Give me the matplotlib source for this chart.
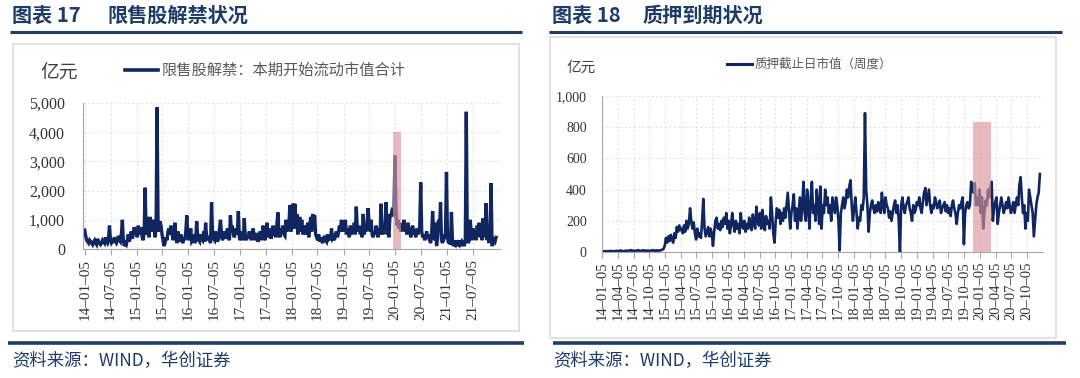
import numpy as np
import pandas as pd
import matplotlib
matplotlib.use("Agg")
import matplotlib.pyplot as plt
import matplotlib.dates as mdates
from matplotlib.patches import Rectangle
from matplotlib.ticker import FuncFormatter, MultipleLocator

# ---------------- data ----------------
# Left: 限售股解禁：本期开始流动市值合计 (weekly, 亿元)
lock_2014 = [650, 450, 300, 250, 200, 300, 250, 200, 150, 250, 300, 200, 150,
             350, 250, 200, 150, 200, 300, 250, 200, 400, 250, 200, 350, 800,
             300, 200, 250, 300, 400, 250, 200, 300, 450, 300, 250, 500, 1000,
             300, 100, 200, 150, 300, 500, 250, 400, 600, 350, 500, 750, 550]
lock_2015 = [700, 400, 800, 600, 500, 750, 400, 300, 600, 2100, 500, 1100, 700,
             400, 1100, 900, 600, 1000, 800, 400, 700, 4850, 1000, 600, 950, 800,
             500, 300, 100, 200, 400, 300, 600, 700, 500, 800, 600, 300, 500,
             900, 400, 200, 600, 350, 250, 500, 300, 200, 400, 300, 600, 1150]
lock_2016 = [500, 300, 400, 700, 250, 300, 500, 200, 350, 950, 400, 300, 250,
             500, 350, 300, 600, 250, 900, 400, 300, 450, 300, 200, 1600, 500,
             350, 300, 600, 400, 250, 350, 700, 1000, 500, 300, 400, 600, 350,
             500, 700, 400, 300, 1150, 600, 800, 500, 400, 600, 700, 500, 1300]
lock_2017 = [400, 300, 600, 500, 300, 1050, 400, 300, 500, 350, 600, 450, 300,
             500, 700, 400, 300, 550, 350, 250, 400, 600, 300, 500, 800, 400,
             300, 600, 900, 500, 400, 700, 350, 500, 800, 450, 600, 400, 900,
             1250, 500, 400, 700, 600, 800, 500, 450, 1000, 600, 700, 800, 1500]
lock_2018 = [600, 900, 1550, 700, 1550, 800, 1200, 500, 900, 1100, 600, 1000, 500,
             700, 800, 500, 600, 900, 400, 700, 1100, 600, 1200, 900, 1150, 500,
             400, 300, 500, 250, 400, 300, 200, 350, 450, 300, 250, 500, 350,
             400, 300, 700, 350, 400, 300, 500, 600, 400, 550, 800, 600, 1000]
lock_2019 = [700, 600, 800, 1000, 500, 700, 600, 400, 800, 500, 700, 600, 900,
             500, 1450, 700, 600, 800, 500, 600, 400, 1200, 500, 700, 600, 900,
             1400, 800, 600, 1000, 500, 400, 600, 500, 800, 600, 400, 700, 500,
             1550, 600, 500, 800, 700, 1600, 500, 600, 400, 1200, 1100, 1300, 1250]
lock_2020 = [1200, 3200, 1400, 800, 1000, 700, 900, 600, 800, 700, 1000, 600, 800,
             500, 900, 700, 600, 400, 700, 800, 500, 600, 400, 700, 500, 600,
             800, 2280, 600, 400, 500, 300, 400, 600, 350, 500, 300, 200, 500,
             1300, 600, 300, 900, 100, 400, 1000, 700, 1600, 300, 200, 500, 400]
lock_2021 = [500, 2640, 400, 200, 300, 150, 1270, 300, 100, 200, 150, 300, 100,
             200, 150, 300, 100, 250, 200, 100, 300, 4700, 400, 200, 300, 1000,
             500, 300, 700, 400, 600, 300, 800, 500, 900, 400, 600, 300, 1050,
             400, 600, 1570, 300, 500, 200, 800, 2260, 100, 200, 300, 250, 400]
lock_values = (lock_2014 + lock_2015 + lock_2016 + lock_2017 +
               lock_2018 + lock_2019 + lock_2020 + lock_2021)
lock_start = "2014-01-03"

# Right: 质押截止日市值（周度） (weekly, 亿元)
pledge_2014 = [3, 5, 4, 6, 3, 5, 4, 7, 5, 6, 4, 5, 8,
               6, 5, 10, 8, 6, 5, 7, 9, 6, 8, 10, 12, 7,
               9, 8, 6, 10, 12, 8, 7, 9, 11, 8, 10, 7, 9,
               8, 6, 10, 12, 9, 7, 11, 8, 10, 9, 12, 15, 20]
pledge_2015 = [40, 90, 60, 100, 70, 110, 80, 60, 120, 90, 160, 130, 170,
               140, 150, 120, 170, 130, 200, 150, 180, 280, 200, 150, 190, 120,
               80, 150, 100, 120, 90, 200, 340, 150, 100, 130, 160, 100, 150,
               120, 40, 130, 200, 220, 150, 180, 140, 200, 160, 220, 180, 250]
pledge_2016 = [150, 200, 120, 180, 250, 170, 130, 200, 150, 180, 120, 250, 170,
               150, 200, 130, 180, 150, 220, 160, 140, 240, 180, 150, 290, 200,
               170, 250, 150, 270, 200, 140, 230, 180, 200, 150, 350, 250, 120,
               60, 200, 280, 220, 270, 180, 250, 200, 280, 220, 300, 380, 260]
pledge_2017 = [150, 250, 300, 370, 200, 280, 150, 250, 350, 200, 300, 450, 250,
               200, 400, 300, 150, 350, 450, 250, 300, 200, 400, 300, 180, 420,
               150, 300, 250, 400, 300, 350, 250, 300, 200, 350, 300, 250, 350,
               300, 200, 10, 250, 300, 350, 280, 320, 400, 350, 420, 460, 300]
pledge_2018 = [200, 280, 350, 250, 150, 220, 200, 300, 270, 350, 890, 400, 300,
               130, 250, 300, 330, 280, 250, 300, 260, 320, 280, 250, 380, 300,
               250, 350, 300, 280, 220, 260, 200, 250, 300, 330, 250, 300, 200,
               0, 300, 350, 280, 250, 300, 320, 350, 280, 250, 200, 300, 250]
pledge_2019 = [270, 320, 300, 350, 280, 250, 320, 380, 410, 300, 350, 400, 300,
               250, 300, 280, 350, 320, 280, 300, 330, 250, 280, 300, 320, 260,
               300, 250, 280, 230, 300, 330, 280, 250, 180, 250, 300, 280, 320,
               350, 50, 250, 300, 320, 280, 300, 450, 420, 380, 440, 300, 350]
pledge_2020 = [300, 400, 250, 350, 150, 250, 330, 300, 400, 350, 420, 450, 200,
               280, 320, 350, 180, 250, 300, 350, 300, 250, 280, 320, 280, 350,
               300, 250, 280, 320, 250, 300, 350, 300, 430, 480, 350, 250, 300,
               150, 250, 200, 400, 350, 300, 250, 100, 200, 300, 350, 380, 500]
pledge_values = (pledge_2014 + pledge_2015 + pledge_2016 + pledge_2017 +
                 pledge_2018 + pledge_2019 + pledge_2020)
pledge_start = "2014-01-03"

# tick labels
left_ticks = [f"{y}-{m}-05" for y in range(2014, 2022) for m in ("01", "07")]
right_ticks = [f"{y}-{m}-05" for y in range(2014, 2021) for m in ("01", "04", "07", "10")]

# highlighted periods
left_band = ("2019-12-20", "2020-02-15", 4000)
right_band = ("2019-11-25", "2020-03-12", 833)

left_title = ("图表 17", "限售股解禁状况")
right_title = ("图表 18", "质押到期状况")
left_legend = "限售股解禁：本期开始流动市值合计"
right_legend = "质押截止日市值（周度）"
unit_label = "亿元"
source_text = "资料来源：WIND，华创证券"

# ---------------- style ----------------
W, H = 1080, 378
NAVY = "#1f3b68"
LINE = "#102660"
CJK = ["Noto Sans CJK SC", "DejaVu Sans"]
NUM = ["Liberation Serif", "DejaVu Serif"]
plt.rcParams["font.family"] = CJK

fig = plt.figure(figsize=(W / 100, H / 100), dpi=100)
fig.patch.set_facecolor("white")


def fx(px):
    return px / W


def fy(py):
    return (H - py) / H


def hline(x0, x1, y, lw, color):
    fig.add_artist(plt.Line2D([fx(x0), fx(x1)], [fy(y), fy(y)], lw=lw, color=color,
                              transform=fig.transFigure, solid_capstyle="butt"))


def box(x0, y0, x1, y1):
    fig.add_artist(Rectangle((fx(x0), fy(y1)), fx(x1) - fx(x0), fy(y0) - fy(y1),
                             transform=fig.transFigure, fill=False,
                             edgecolor="#dcdcdc", lw=1.2))


# titles and rules
for x0, xt, (num, txt) in ((12, 107, left_title), (552, 643, right_title)):
    fig.text(fx(x0), fy(15), num, fontsize=14.5, fontweight="bold", color=NAVY,
             va="center", ha="left", family=CJK)
    fig.text(fx(xt), fy(15), txt, fontsize=14.5, fontweight="bold", color=NAVY,
             va="center", ha="left", family=CJK)
hline(10, 522, 32, 2.2, NAVY)
hline(549, 1062, 32, 2.2, NAVY)
hline(8, 524, 343, 2.6, NAVY)
hline(553, 1066, 343, 2.6, NAVY)
fig.text(fx(12), fy(361), source_text, fontsize=12.5, color=NAVY, va="center", family=CJK)
fig.text(fx(553), fy(361), source_text, fontsize=12.5, color=NAVY, va="center", family=CJK)

box(13, 44, 519, 331)
box(550, 37, 1056, 338)


def style_axes(ax, ytick_fs, xtick_fs, ypad):
    for s in ("top", "right"):
        ax.spines[s].set_visible(False)
    ax.spines["left"].set_color("#a6a6a6")
    ax.spines["bottom"].set_color("#a6a6a6")
    ax.grid(True, color="#e3e3e3", lw=0.8, ls=(0, (2, 2)))
    ax.set_axisbelow(True)
    ax.tick_params(axis="y", length=0, pad=ypad, labelsize=ytick_fs, labelcolor="#333333")
    ax.tick_params(axis="x", length=4, width=0.8, color="#a6a6a6", pad=3,
                   labelsize=xtick_fs, labelcolor="#333333", rotation=90)
    for lab in ax.get_xticklabels() + ax.get_yticklabels():
        lab.set_family(NUM)
    ax.yaxis.set_major_formatter(FuncFormatter(lambda v, p: f"{v:,.0f}"))
    ax.xaxis.set_major_formatter(mdates.DateFormatter("%y\u2013%m\u2013%d"))


# ---------------- left chart ----------------
axL = fig.add_axes([fx(83), fy(249), fx(500) - fx(83), fy(103) - fy(249)])
dL = pd.date_range(lock_start, periods=len(lock_values), freq="7D")
axL.plot(dL, lock_values, color=LINE, lw=2.4, solid_joinstyle="miter", zorder=2)
b0, b1 = mdates.date2num(pd.Timestamp(left_band[0])), mdates.date2num(pd.Timestamp(left_band[1]))
axL.add_patch(Rectangle((b0, 0), b1 - b0, left_band[2], facecolor="#d9959b", alpha=0.65,
                        edgecolor="none", zorder=3))
axL.set_ylim(0, 5000)
axL.yaxis.set_major_locator(MultipleLocator(1000))
axL.set_xlim(pd.Timestamp("2013-12-22"), pd.Timestamp("2022-01-14"))
axL.set_xticks(pd.to_datetime(left_ticks))
style_axes(axL, 11.5, 11, 13)

fig.text(fx(40), fy(73), unit_label, fontsize=13.5, color="#404040", va="center", family=CJK)
fig.add_artist(plt.Line2D([fx(125), fx(158)], [fy(70), fy(70)], lw=2.6, color=LINE,
                          transform=fig.transFigure))
fig.text(fx(162), fy(70), left_legend, fontsize=11, color="#595959", va="center", family=CJK)

# ---------------- right chart ----------------
axR = fig.add_axes([fx(602), fy(252), fx(1043) - fx(602), fy(96) - fy(252)])
dR = pd.date_range(pledge_start, periods=len(pledge_values), freq="7D")
axR.plot(dR, pledge_values, color=LINE, lw=1.9, zorder=2)
c0, c1 = mdates.date2num(pd.Timestamp(right_band[0])), mdates.date2num(pd.Timestamp(right_band[1]))
axR.add_patch(Rectangle((c0, 0), c1 - c0, right_band[2], facecolor="#d9959b", alpha=0.65,
                        edgecolor="none", zorder=3))
axR.set_ylim(0, 1000)
axR.yaxis.set_major_locator(MultipleLocator(200))
axR.set_xlim(pd.Timestamp("2014-01-03"), pd.Timestamp("2021-01-05"))
axR.set_xticks(pd.to_datetime(right_ticks))
style_axes(axR, 10, 10.5, 11)

fig.text(fx(567), fy(68), unit_label, fontsize=10.5, color="#404040", va="center", family=CJK)
fig.add_artist(plt.Line2D([fx(727), fx(752)], [fy(64), fy(64)], lw=2.2, color=LINE,
                          transform=fig.transFigure))
fig.text(fx(755), fy(64), right_legend, fontsize=9, color="#595959", va="center", family=CJK)

fig.savefig("out.png", dpi=100)
